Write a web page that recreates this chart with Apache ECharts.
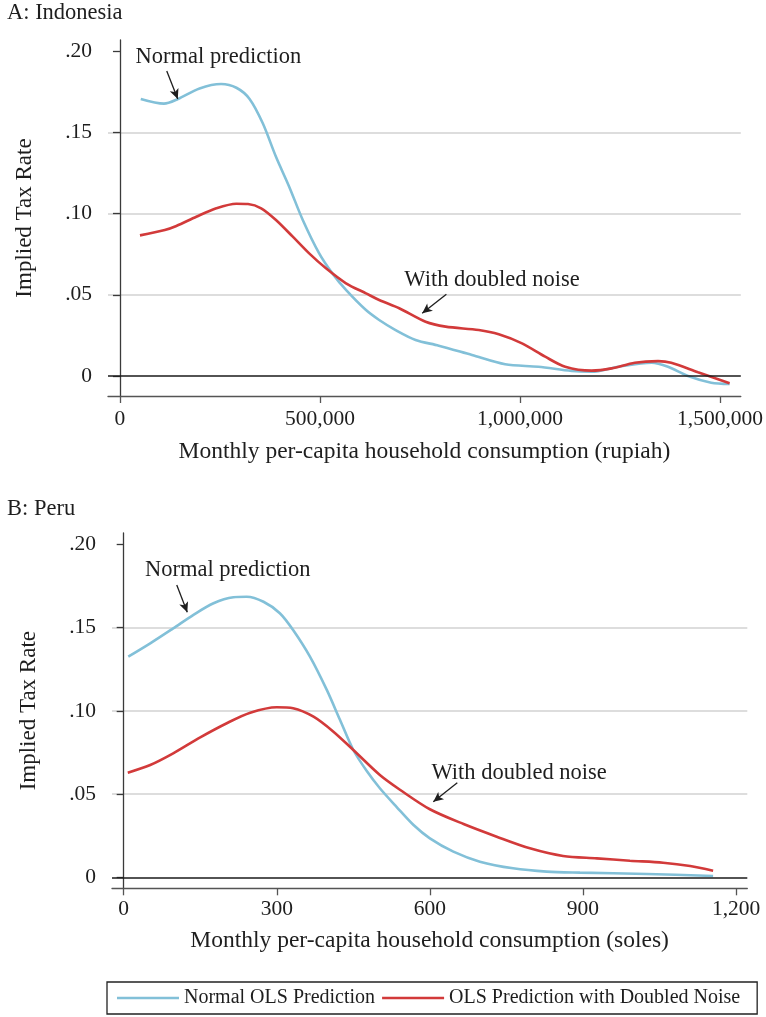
<!DOCTYPE html>
<html>
<head>
<meta charset="utf-8">
<script src="https://cdn.jsdelivr.net/npm/echarts@6/dist/echarts.min.js"></script>
<style>
html,body{margin:0;padding:0;background:#fff;}
#chart{width:766px;height:1017px;}
</style>
</head>
<body>
<div id="chart"></div>
<script>
// ---------- Data ----------
const seriesNames = ['Normal OLS Prediction', 'OLS Prediction with Doubled Noise'];
const panelTitles = ['A: Indonesia', 'B: Peru'];
const yAxisTitle = 'Implied Tax Rate';
const xAxisTitles = ['Monthly per-capita household consumption (rupiah)', 'Monthly per-capita household consumption (soles)'];

const yTickValues = [0, 0.05, 0.10, 0.15, 0.20];
const yTickLabels = ['0', '.05', '.10', '.15', '.20'];
const xTickValuesA = [0, 500000, 1000000, 1500000];
const xTickLabelsA = ['0', '500,000', '1,000,000', '1,500,000'];
const xTickValuesB = [0, 300, 600, 900, 1200];
const xTickLabelsB = ['0', '300', '600', '900', '1,200'];

// Panel A: Indonesia (rupiah)
const indoNormalX = [52000,110000,145000,199000,253000,291000,324000,357000,390000,423000,457000,498000,531000,565000,615000,648000,689000,739000,797000,880000,963000,1046000,1129000,1179000,1246000,1329000,1370000,1420000,1478000,1524000];
const indoNormalY = [0.1706,0.1677,0.1706,0.1771,0.1798,0.1775,0.1706,0.1556,0.1350,0.1166,0.0961,0.0755,0.0632,0.0530,0.0406,0.0345,0.0283,0.0222,0.0187,0.0129,0.0072,0.0057,0.0031,0.0026,0.0057,0.0082,0.0057,0.0000,-0.0041,-0.0049];
const indoNoiseX = [50000,112000,141000,191000,241000,291000,320000,353000,390000,432000,473000,515000,565000,615000,648000,698000,764000,814000,897000,947000,1005000,1063000,1113000,1179000,1229000,1287000,1345000,1378000,1445000,1524000];
const indoNoiseY = [0.0866,0.0899,0.0924,0.0981,0.1033,0.1061,0.1059,0.1033,0.0961,0.0858,0.0755,0.0663,0.0571,0.0509,0.0468,0.0417,0.0334,0.0304,0.0283,0.0257,0.0201,0.0119,0.0057,0.0033,0.0047,0.0082,0.0092,0.0082,0.0023,-0.0045];

// Panel B: Peru (soles)
const peruNormalX = [9,52,97,136,176,215,241,274,306,332,365,398,424,450,476,502,535,568,600,646,698,763,829,894,1025,1155];
const peruNormalY = [0.1326,0.1406,0.1496,0.1576,0.1647,0.1683,0.1686,0.1656,0.1587,0.1486,0.1326,0.1126,0.0945,0.0765,0.0640,0.0535,0.0422,0.0314,0.0234,0.0154,0.0094,0.0054,0.0034,0.0028,0.0020,0.0008];
const peruNoiseX = [8,52,97,150,202,248,300,332,372,411,450,502,542,600,666,731,796,861,927,992,1057,1110,1155];
const peruNoiseY = [0.0629,0.0675,0.0745,0.0841,0.0926,0.0989,0.1022,0.1016,0.0965,0.0875,0.0765,0.0615,0.0525,0.0409,0.0320,0.0244,0.0174,0.0128,0.0114,0.0100,0.0088,0.0068,0.0040];

// Annotations (data coordinates): [textX, textY, arrowFromX, arrowFromY, arrowToX, arrowToY]
const annotationTexts = ['Normal prediction', 'With doubled noise'];
const annotA = [[246000,0.1964,117000,0.1878,144500,0.1706],[930000,0.0591,816000,0.0503,755600,0.0386]];
const annotB = [[204,0.1847,104,0.1757,124.6,0.1593],[775,0.0629,653.7,0.0568,606.7,0.0454]];

// ---------- Styles ----------
const FONT = '"Liberation Serif", "Times New Roman", serif';
const TXT = '#1e1e1e';
const BLUE = '#82c0d8';
const RED = '#d23a3a';

function zip(xs, ys){ return xs.map((x,i)=>[x, ys[i]]); }
function lbl(values, labels){ return function(v){ const i = values.findIndex(t => Math.abs(t - v) < 1e-9 * Math.max(1, Math.abs(t))); return i >= 0 ? labels[i] : ''; }; }

function yAxisCfg(gridIndex, min, max){
  return {
    type:'value', gridIndex, min, max,
    name: yAxisTitle, nameLocation:'middle', nameGap:72,
    nameTextStyle:{fontFamily:FONT, fontSize:23, color:TXT},
    axisLine:{show:true, lineStyle:{color:'#3a3a3a', width:1.3}},
    axisTick:{show:true, length:7, customValues:yTickValues, lineStyle:{color:'#3a3a3a', width:1.3}},
    axisLabel:{customValues:yTickValues, formatter:lbl(yTickValues, yTickLabels), margin:16, fontFamily:FONT, fontSize:21.5, color:TXT},
    splitLine:{show:true, showMinLine:false, showMaxLine:false, lineStyle:{color:'#d2d2d2', width:1.5}}
  };
}
function xAxisCfg(gridIndex, min, max, vals, labels, name, nameGap, margin){
  return {
    type:'value', gridIndex, min, max,
    name, nameLocation:'middle', nameGap,
    nameTextStyle:{fontFamily:FONT, fontSize:23.5, color:TXT},
    axisLine:{show:true, onZero:false, lineStyle:{color:'#555', width:1.3}},
    axisTick:{show:true, length:7, customValues:vals, lineStyle:{color:'#555', width:1.3}},
    axisLabel:{customValues:vals, formatter:lbl(vals, labels), margin, fontFamily:FONT, fontSize:21.5, color:TXT},
    splitLine:{show:false}
  };
}
function arrowLines(ann){
  return ann.map(a => [
    {coord:[a[2], a[3]], symbol:'none'},
    {coord:[a[4], a[5]], symbol:'arrow', symbolSize:[7,10]}
  ]);
}
function textPoints(ann){
  return ann.map((a,i) => ({coord:[a[0], a[1]], name:annotationTexts[i]}));
}
function annSeries(xi, yi, ann){
  return {
    type:'line', xAxisIndex:xi, yAxisIndex:yi, data:[], silent:true, z:5,
    markLine:{
      silent:true, animation:false, symbol:['none','none'],
      label:{show:false},
      lineStyle:{color:'#1e1e1e', width:1.3, type:'solid'},
      emphasis:{disabled:true},
      data:[{yAxis:0, lineStyle:{color:'#1a1a1a', width:1.6}}].concat(arrowLines(ann))
    },
    markPoint:{
      silent:true, animation:false, symbol:'circle', symbolSize:1,
      itemStyle:{color:'rgba(0,0,0,0)'},
      label:{show:true, position:'inside', formatter:'{b}', fontFamily:FONT, fontSize:22.5, color:TXT},
      data:textPoints(ann)
    }
  };
}
function lineSeries(name, xi, yi, data, color){
  return {
    name, type:'line', xAxisIndex:xi, yAxisIndex:yi, data,
    showSymbol:false, symbol:'none', smooth:0.3,
    lineStyle:{color, width:2.6}, itemStyle:{color}, z:3, animation:false
  };
}

const option = {
  backgroundColor:'#fff',
  animation:false,
  title:[
    {text:panelTitles[0], left:7, top:2, padding:0, textStyle:{fontFamily:FONT, fontSize:22.5, fontWeight:'normal', color:TXT}},
    {text:panelTitles[1], left:7, top:498, padding:0, textStyle:{fontFamily:FONT, fontSize:22.5, fontWeight:'normal', color:TXT}}
  ],
  legend:{
    data:seriesNames, left:107, top:982, width:630, orient:'horizontal',
    padding:[6,17,6,10], itemGap:7, itemWidth:62, itemHeight:2.6, icon:'rect',
    borderColor:'#222', borderWidth:1.3, borderRadius:0,
    textStyle:{fontFamily:FONT, fontSize:20, color:TXT},
    selectedMode:false
  },
  grid:[
    {left:108, top:40, width:635, height:356, containLabel:false},
    {left:112, top:533, width:635.3, height:355.3, containLabel:false}
  ],
  xAxis:[
    xAxisCfg(0, -29900, 1552000, xTickValuesA, xTickLabelsA, xAxisTitles[0], 44, 12),
    xAxisCfg(1, -22.9, 1222, xTickValuesB, xTickLabelsB, xAxisTitles[1], 41, 10)
  ],
  yAxis:[
    yAxisCfg(0, -0.0123, 0.2069),
    yAxisCfg(1, -0.0066, 0.2069)
  ],
  series:[
    annSeries(0, 0, annotA),
    lineSeries(seriesNames[0], 0, 0, zip(indoNormalX, indoNormalY), BLUE),
    lineSeries(seriesNames[1], 0, 0, zip(indoNoiseX, indoNoiseY), RED),
    annSeries(1, 1, annotB),
    lineSeries(seriesNames[0], 1, 1, zip(peruNormalX, peruNormalY), BLUE),
    lineSeries(seriesNames[1], 1, 1, zip(peruNoiseX, peruNoiseY), RED)
  ]
};

const chart = echarts.init(document.getElementById('chart'), null, {renderer:'canvas'});
chart.setOption(option);
</script>
</body>
</html>
